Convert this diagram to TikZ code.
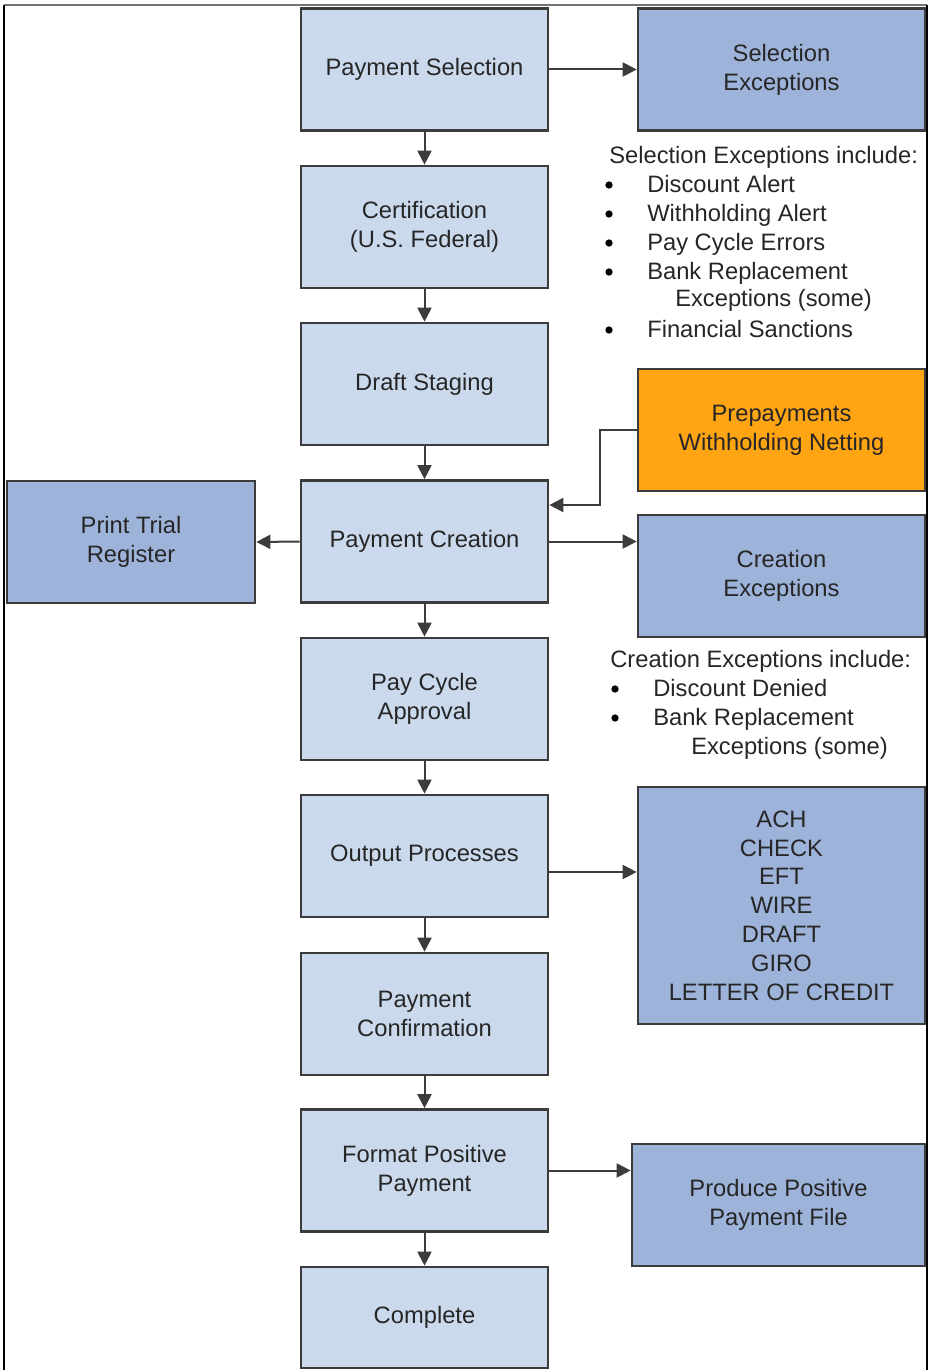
\documentclass[tikz,border=0pt]{standalone}
\usepackage{fontspec}
\setmainfont{Liberation Sans}
\usetikzlibrary{arrows.meta}
\definecolor{lightbox}{HTML}{CBD9EC}
\definecolor{darkbox}{HTML}{9EB3DA}
\definecolor{orangebox}{HTML}{FFA412}
\definecolor{edge}{HTML}{3C3C3C}
\definecolor{txt}{HTML}{262626}
\tikzset{
  box/.style={draw=edge, line width=2pt, align=center, text=txt, inner sep=0pt,
    font=\fontsize{17.8pt}{21.6pt}\selectfont},
  mainbox/.style={box, fill=lightbox, minimum width=185.25pt, minimum height=91.5pt},
  sidebox/.style={box, fill=darkbox, minimum width=215.25pt, minimum height=91.5pt},
  arr/.style={draw=edge, line width=1.5pt, -{Triangle[length=10.5pt,width=10.5pt]}},
  listtxt/.style={anchor=base west, inner sep=0pt, text=txt, font=\fontsize{17.8pt}{21.6pt}\selectfont},
  bul/.style={circle, fill=black, inner sep=0pt, minimum size=5.5pt}
}
\begin{document}
\begin{tikzpicture}[x=0.75pt,y=-0.75pt]
\useasboundingbox (0,0) rectangle (931,1370);
% frame
\draw[black!55, line width=1.2pt] (4,5) -- (927,5);
\draw[black, line width=1.5pt] (4,5) -- (4,1370);
\draw[black, line width=1.5pt] (927,5) -- (927,1370);

% main column
\node[mainbox] (ps) at (424.5,69.5) {Payment Selection};
\node[mainbox] (cert) at (424.5,227) {Certification\\(U.S. Federal)};
\node[mainbox] (ds) at (424.5,384) {Draft Staging};
\node[mainbox] (pc) at (424.5,541.5) {Payment Creation};
\node[mainbox] (pca) at (424.5,699) {Pay Cycle\\Approval};
\node[mainbox] (op) at (424.5,856) {Output Processes};
\node[mainbox] (conf) at (424.5,1014) {Payment\\Confirmation};
\node[mainbox] (fpp) at (424.5,1170.5) {Format Positive\\Payment};
\node[mainbox, minimum height=75.75pt] (comp) at (424.5,1317.5) {Complete};

% side boxes
\node[sidebox] (se) at (781.5,69.5) {Selection\\Exceptions};
\node[sidebox, fill=orangebox] (pre) at (781.5,430) {Prepayments\\Withholding Netting};
\node[sidebox] (ce) at (781.5,576) {Creation\\Exceptions};
\node[sidebox, minimum height=177.75pt] (ach) at (781.5,905.5) {ACH\\CHECK\\EFT\\WIRE\\DRAFT\\GIRO\\LETTER OF CREDIT};
\node[sidebox, minimum width=219.75pt] (ppf) at (778.5,1205) {Produce Positive\\Payment File};
\node[sidebox, minimum width=186pt] (ptr) at (131,542) {Print Trial\\Register};

% vertical arrows
\draw[arr] (ps) -- (cert);
\draw[arr] (cert) -- (ds);
\draw[arr] (ds) -- (pc);
\draw[arr] (pc) -- (pca);
\draw[arr] (pca) -- (op);
\draw[arr] (op) -- (conf);
\draw[arr] (conf) -- (fpp);
\draw[arr] (fpp) -- (comp);

% horizontal arrows
\draw[arr] (ps.east) -- (se.west);
\draw[arr] (pc.east) -- (ce.west |- pc.east);
\draw[arr] (pc.west) -- (ptr.east);
\coordinate (oy) at (0,872);
\draw[arr] (op.east |- oy) -- (ach.west |- oy);
\draw[arr] (fpp.east) -- (ppf.west |- fpp.east);
\coordinate (pk) at (600,505);
\draw[arr] (pre.west) -| (pk) -- (pc.east |- pk);

% selection exceptions list
\node[listtxt] (sh) at (609,163) {Selection Exceptions include:};
\node[bul] (sb1) at (609,185) {};
\node[listtxt] (s1) at (647,192) {Discount Alert};
\node[bul] (sb2) at (609,214) {};
\node[listtxt] (s2) at (647,221) {Withholding Alert};
\node[bul] (sb3) at (609,243) {};
\node[listtxt] (s3) at (647,250) {Pay Cycle Errors};
\node[bul] (sb4) at (609,272) {};
\node[listtxt] (s4) at (647,279) {Bank Replacement};
\node[listtxt] (s4b) at (675,306) {Exceptions (some)};
\node[bul] (sb5) at (609,330) {};
\node[listtxt] (s5) at (647,337) {Financial Sanctions};

% creation exceptions list
\node[listtxt] (ch) at (610,667) {Creation Exceptions include:};
\node[bul] (cb1) at (615,689) {};
\node[listtxt] (c1) at (653,696) {Discount Denied};
\node[bul] (cb2) at (615,718) {};
\node[listtxt] (c2) at (653,725) {Bank Replacement};
\node[listtxt] (c2b) at (691,754) {Exceptions (some)};
\end{tikzpicture}
\end{document}
